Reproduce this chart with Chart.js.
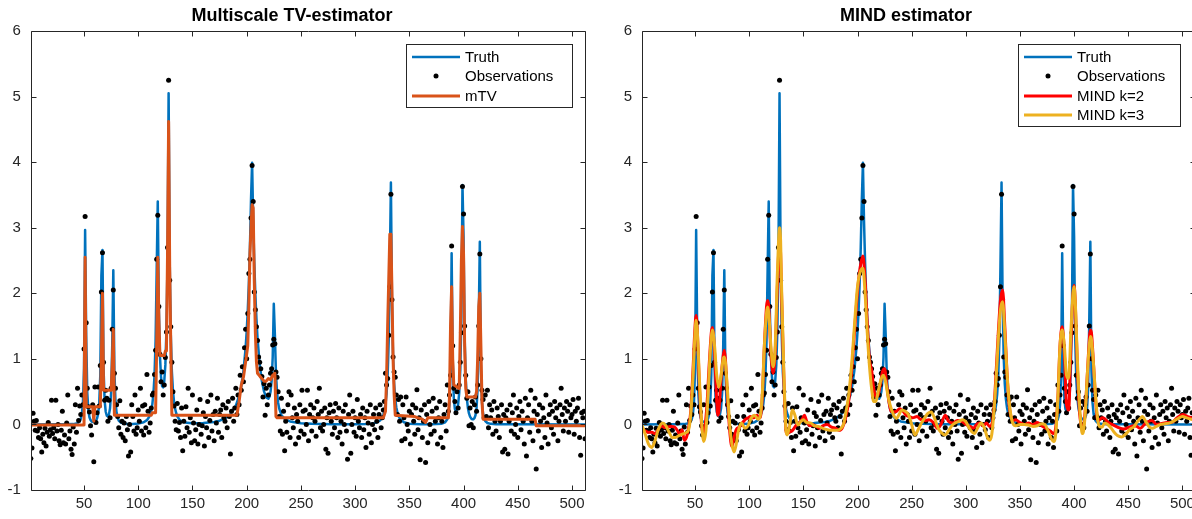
<!DOCTYPE html>
<html><head><meta charset="utf-8">
<script src="https://cdn.jsdelivr.net/npm/chart.js@4.4.1/dist/chart.umd.min.js"></script>
<style>
html,body{margin:0;padding:0;background:#fff;overflow:hidden;width:1192px;height:519px;position:relative;}
.box{position:absolute;top:0;height:519px;width:600px;}
#w1{left:0;} #w2{left:600px;}
canvas{display:block;}
</style></head><body>
<div class="box" id="w1"><canvas id="c1" width="600" height="519"></canvas></div>
<div class="box" id="w2"><canvas id="c2" width="600" height="519"></canvas></div>
<script>
const FONT = '"Liberation Sans", Arial, Helvetica, sans-serif';
const xTicks = [50,100,150,200,250,300,350,400,450,500];
const yTicks = [-1,0,1,2,3,4,5,6];

// Observations, samples 1..512
const obsValues = [
-0.52,-0.36,0.17,0.05,-0.09,0.06,-0.1,-0.2,-0.05,-0.22,
-0.42,-0.15,-0.28,-0.06,-0.33,-0.12,0.03,-0.18,-0.08,0.37,
-0.14,-0.05,-0.22,0.37,-0.1,0.0,-0.25,-0.31,-0.09,0.2,
-0.28,-0.16,-0.3,0.02,0.45,-0.22,-0.1,-0.38,-0.46,-0.04,
-0.3,0.3,-0.12,0.55,0.06,0.28,0.15,0.45,0.3,1.15,
3.17,1.55,0.55,0.27,0.19,-0.02,-0.16,0.3,-0.57,0.57,
0.03,0.18,0.57,0.28,0.9,2.02,2.62,0.95,0.37,0.52,
0.4,0.05,0.37,0.1,0.55,1.45,2.05,0.78,0.55,0.3,
0.12,-0.05,0.36,-0.15,0.05,-0.2,0.02,-0.25,0.12,-0.08,
-0.48,0.0,-0.42,0.3,0.12,-0.1,0.45,-0.15,-0.05,0.22,
0.05,0.55,-0.1,0.28,-0.16,0.3,-0.05,0.76,0.2,-0.12,
0.02,0.25,0.45,0.48,0.76,1.13,2.52,3.19,1.8,1.07,
0.65,0.8,0.45,0.6,1.02,1.41,2.7,5.25,2.2,1.49,
0.95,0.5,0.28,0.05,-0.08,0.32,-0.1,0.03,-0.2,0.25,
-0.4,0.05,-0.18,0.27,-0.05,0.55,-0.12,0.1,-0.28,0.45,
0.02,-0.25,-0.08,0.22,-0.3,0.0,0.38,-0.15,-0.02,0.18,
-0.33,0.12,-0.05,0.35,-0.2,0.06,0.45,-0.1,0.15,-0.25,
0.2,0.02,0.4,-0.12,0.15,0.22,-0.2,0.3,0.1,0.05,
0.25,-0.05,0.35,0.12,-0.45,0.2,0.4,0.05,0.25,0.55,
0.15,0.45,0.3,0.75,0.52,0.88,0.65,1.17,1.45,1.0,
1.69,2.3,2.52,3.15,3.95,3.4,2.02,1.75,1.49,1.28,
1.03,0.95,0.85,0.73,0.42,0.62,0.14,0.55,0.3,0.45,
0.6,0.78,0.85,1.21,1.3,1.23,0.8,0.72,0.5,0.12,
-0.1,0.4,-0.15,0.2,-0.4,0.05,-0.12,0.3,0.5,-0.2,
0.45,0.1,-0.05,0.25,-0.3,0.15,0.05,-0.2,0.3,-0.1,
0.52,0.2,-0.15,0.22,0.0,0.52,-0.25,0.15,0.3,-0.1,
0.1,0.25,0.05,-0.18,0.35,0.15,0.55,-0.05,0.2,-0.1,
0.0,0.25,-0.38,0.1,-0.44,0.18,0.3,0.05,-0.15,0.2,
-0.05,0.32,0.1,-0.2,0.25,-0.12,0.05,-0.3,0.2,0.0,
0.3,-0.1,-0.53,0.15,0.45,-0.44,0.0,0.2,-0.12,0.1,
-0.18,0.38,0.05,-0.05,0.15,-0.2,0.25,-0.08,0.1,-0.35,
0.2,0.02,-0.15,0.3,-0.28,0.0,0.15,-0.08,0.25,0.05,
-0.2,0.15,0.3,-0.05,0.1,0.22,0.35,0.78,0.6,0.7,
1.36,2.1,3.51,1.9,1.03,0.8,0.72,0.45,0.15,0.38,
0.05,0.42,-0.25,0.3,0.1,-0.22,0.42,0.0,-0.1,0.2,
-0.3,0.15,0.3,0.05,-0.15,0.25,0.53,-0.08,0.1,-0.54,
0.22,-0.2,0.05,0.3,-0.58,0.15,-0.28,0.35,0.0,-0.15,
0.2,0.4,-0.1,0.05,0.25,-0.3,0.1,0.35,-0.2,0.05,
-0.35,0.15,0.3,-0.1,0.6,0.2,0.45,0.75,2.72,1.2,
0.55,0.35,0.18,0.5,0.25,0.6,0.95,1.4,3.63,3.21,
1.5,0.75,0.4,0.5,-0.02,0.25,0.0,0.35,-0.05,0.3,
0.42,0.2,0.6,1.5,2.6,1.0,0.52,0.38,0.1,0.45,
0.12,0.52,-0.05,0.3,0.1,0.22,-0.15,0.35,0.05,-0.1,
0.25,0.12,-0.2,0.05,0.3,-0.42,0.15,-0.38,0.1,0.22,
-0.45,0.05,0.3,-0.1,0.18,0.45,-0.15,0.0,0.25,-0.2,
0.12,0.35,-0.08,0.2,0.05,-0.3,0.4,-0.48,0.1,0.3,
-0.12,0.52,0.05,-0.25,0.2,0.4,-0.68,0.15,-0.1,0.3,
0.05,-0.35,0.25,0.1,-0.2,0.45,0.02,-0.3,0.15,0.3,
-0.05,0.2,-0.15,0.35,0.1,0.25,-0.25,0.05,0.3,0.55,
0.15,-0.1,0.25,0.05,0.35,0.2,-0.12,0.3,0.1,0.15,
0.38,-0.15,0.2,0.05,0.25,0.4,-0.2,-0.47,0.18,0.1,
0.2,-0.22];

// Truth (sample index, value)
const truthX = [1,20,30,40,44,46,47,48,49,50,51,52,53,54,55,56,57,58,59,60,61,62,63,64,65,66,67,68,69,70,71,72,73,74,75,76,77,78,79,80,81,82,84,86,90,95,100,105,108,110,112,113,114,115,116,117,118,119,120,121,122,123,124,125,126,127,128,129,130,131,132,133,134,135,136,138,140,145,150,160,170,175,180,185,190,193,195,197,199,200,201,202,203,204,205,206,207,208,209,210,212,214,216,218,220,221,222,223,224,225,226,227,228,229,230,232,235,240,250,260,280,300,310,315,320,323,325,326,327,328,329,330,331,332,333,334,335,336,337,338,339,340,342,345,350,360,370,375,380,383,385,386,387,388,389,390,391,392,393,394,395,396,397,398,399,400,401,402,403,404,405,406,407,408,409,410,411,412,413,414,415,416,417,418,419,420,422,425,430,450,512];
const truthY = [0,0.001,0.002,0.005,0.019,0.047,0.082,0.156,0.335,0.859,2.965,1.348,0.48,0.212,0.11,0.066,0.045,0.038,0.037,0.043,0.059,0.091,0.16,0.32,0.754,2.27,2.66,0.853,0.363,0.194,0.133,0.122,0.153,0.247,0.49,1.2,2.35,0.81,0.35,0.18,0.10,0.06,0.027,0.015,0.008,0.0075,0.0135,0.033,0.065,0.112,0.213,0.31,0.468,0.745,1.27,2.35,3.40,1.77,1.05,0.72,0.583,0.566,0.662,0.908,1.43,2.52,5.05,2.49,1.37,0.81,0.517,0.343,0.238,0.171,0.125,0.073,0.045,0.024,0.017,0.021,0.038,0.057,0.09,0.155,0.285,0.43,0.583,0.81,1.165,1.415,1.737,2.15,2.70,3.43,3.99,3.11,2.47,1.98,1.61,1.315,0.914,0.662,0.504,0.413,0.392,0.423,0.498,0.667,1.024,1.84,1.37,0.778,0.488,0.332,0.24,0.145,0.084,0.045,0.019,0.01,0.004,0.003,0.006,0.012,0.03,0.06,0.106,0.146,0.208,0.305,0.467,0.751,1.287,2.41,3.69,1.854,1.028,0.617,0.392,0.26,0.18,0.128,0.07,0.033,0.012,0.003,0.003,0.005,0.012,0.032,0.079,0.143,0.297,0.751,2.61,0.993,0.402,0.235,0.2,0.223,0.307,0.482,0.838,1.63,3.65,2.86,1.334,0.70,0.406,0.252,0.168,0.119,0.092,0.079,0.079,0.095,0.14,0.25,0.552,1.57,2.785,0.838,0.336,0.161,0.088,0.052,0.022,0.009,0.003,0.001,0];

// Multiscale TV estimate
const mtvX = [1,50,51,52,58,59,60,65,66,67,68,75,76,77,78,112,113,116,117,118,119,120,124,125,126,127,128,129,130,131,191,193,195,197,199,201,202,203,204,205,206,207,208,209,210,213,216,218,220,222,224,226,227,228,326,328,329,330,331,332,333,334,335,336,337,355,358,362,365,367,386,387,388,389,390,391,396,397,398,399,400,401,402,403,411,412,413,414,415,416,417,418,466,467,512];
const mtvY = [-0.01,-0.01,2.55,0.27,0.27,0.05,0.27,0.27,1.0,2.0,0.52,0.52,0.9,1.45,0.14,0.14,0.18,0.18,1.2,2.55,1.6,1.05,1.05,1.12,1.12,2.6,4.62,2.4,1.2,0.14,0.14,0.35,0.6,0.72,0.95,1.2,1.8,2.6,3.0,3.35,3.3,2.2,1.4,0.95,0.78,0.72,0.66,0.66,0.7,0.68,0.75,0.78,0.12,0.1,0.1,0.2,0.7,1.5,2.2,2.9,2.9,2.0,1.0,0.45,0.14,0.12,0.1,0.08,0.03,0.1,0.1,0.4,1.5,2.1,1.0,0.6,0.55,1.4,2.5,3.02,2.6,1.2,0.55,0.42,0.42,0.5,1.0,1.8,2.0,1.2,0.35,0.08,0.08,-0.02,-0.02];

// MIND k=2
const mind2X = [1,4,7,10,13,16,19,22,25,28,31,34,36,38,40,42,44,46,48,50,51,52,54,56,57,59,61,63,65,66,68,70,71,72,74,76,77,78,80,82,84,86,88,91,94,96,99,101,104,107,110,112,114,116,117,118,120,122,124,126,128,129,130,132,134,135,137,140,143,146,149,151,153,156,159,162,165,168,172,176,180,183,186,189,192,195,198,201,203,205,207,209,211,213,215,217,219,221,223,225,227,229,231,233,236,239,242,245,248,251,255,258,262,266,270,274,277,281,284,288,292,296,300,304,307,310,313,316,319,322,324,326,328,330,332,334,336,338,340,342,344,346,350,354,358,362,366,370,374,378,381,383,385,387,389,391,393,395,397,399,400,401,403,405,407,409,411,413,415,416,418,420,422,424,426,428,431,435,440,446,451,455,458,461,465,468,472,476,480,486,490,495,500,505,509,512];
const mind2Y = [-0.09,-0.1,-0.12,-0.12,-0.14,-0.08,-0.02,-0.05,-0.04,-0.03,-0.04,-0.1,-0.16,-0.08,-0.24,-0.2,-0.05,0.2,0.8,1.5,1.66,1.45,0.6,0.0,-0.14,-0.05,0.3,0.9,1.4,1.48,1.1,0.35,0.14,0.2,0.7,1.05,1.13,1.0,0.4,-0.1,-0.34,-0.2,-0.08,-0.04,0.03,0.07,0.1,0.12,0.1,0.14,0.1,0.4,1.2,1.8,1.89,1.8,1.1,0.78,1.1,2.1,2.8,2.6,1.9,0.7,-0.1,-0.14,-0.12,-0.09,-0.02,0.02,0.08,0.14,0.05,-0.02,-0.01,-0.03,-0.06,-0.02,0.0,-0.04,-0.06,-0.09,-0.05,0.1,0.37,0.9,1.6,2.2,2.45,2.57,2.2,1.55,1.0,0.83,0.55,0.42,0.45,0.6,0.8,0.85,0.6,0.35,0.2,0.19,0.2,0.24,0.2,0.14,0.12,0.1,0.12,0.08,0.06,0.07,0.03,-0.06,0.0,0.14,0.05,0.02,0.06,0.05,0.0,-0.03,-0.06,0.0,0.02,-0.02,0.02,-0.03,0.0,0.25,0.8,1.4,1.9,2.05,1.5,0.8,0.3,0.1,0.06,0.07,0.03,0.0,0.02,0.0,0.03,-0.02,-0.06,-0.1,-0.14,-0.05,0.4,1.2,1.49,1.1,0.3,0.22,1.2,2.0,2.12,1.9,0.9,0.2,-0.05,0.0,0.4,1.0,1.44,1.4,0.9,0.35,0.05,0.08,0.1,0.09,0.04,0.0,-0.04,-0.07,-0.04,-0.02,-0.03,-0.06,0.0,0.04,0.06,0.0,0.01,0.03,0.03,0.1,0.15,0.12,0.1,0.08];

// MIND k=3
const mind3X = [1,4,7,10,13,16,20,23,26,29,32,35,38,41,44,46,48,50,51,52,54,56,58,60,62,64,66,68,70,72,74,76,77,78,80,82,84,86,88,90,93,96,99,102,105,108,110,112,114,116,117,118,120,122,124,126,128,129,130,132,134,135,137,140,142,145,148,150,153,157,160,164,168,172,176,180,184,187,190,192,195,198,200,203,205,207,209,211,213,215,217,219,222,224,226,228,230,232,234,236,238,241,244,247,250,253,256,259,262,265,268,271,274,277,281,284,287,290,294,297,300,303,306,308,311,314,317,320,322,324,326,328,330,332,334,336,338,340,342,344,346,350,354,358,362,366,370,373,376,379,381,383,385,387,389,391,393,395,397,399,400,401,403,405,407,408,410,412,414,415,416,418,420,422,424,426,428,431,434,437,440,444,448,452,455,458,461,463,466,469,472,476,480,484,488,492,496,500,504,508,512];
const mind3Y = [-0.01,-0.15,-0.3,-0.35,-0.25,-0.08,0.02,-0.02,-0.12,-0.2,-0.2,-0.17,-0.15,-0.13,-0.08,0.15,0.7,1.4,1.59,1.45,0.7,0.05,-0.26,-0.1,0.45,1.1,1.44,1.2,0.75,0.57,0.75,1.0,1.03,0.95,0.5,0.0,-0.3,-0.42,-0.3,-0.1,0.02,-0.06,-0.02,0.1,0.14,0.08,0.12,0.45,1.2,1.7,1.79,1.7,1.2,0.88,1.2,2.3,3.0,2.8,2.0,0.8,-0.1,-0.16,-0.05,0.22,0.15,-0.01,0.05,0.07,0.03,0.02,-0.02,-0.03,-0.06,-0.08,-0.09,-0.09,-0.07,0.0,0.25,0.47,1.0,1.7,2.1,2.35,2.38,2.0,1.4,0.9,0.55,0.35,0.35,0.5,0.7,0.75,0.65,0.45,0.3,0.2,0.12,0.09,0.14,0.22,0.2,0.15,0.0,-0.16,-0.08,0.02,0.1,0.17,0.19,0.1,-0.04,-0.12,-0.16,-0.1,-0.02,0.02,0.05,0.07,0.04,-0.05,-0.12,-0.14,-0.05,0.02,-0.05,-0.2,-0.24,-0.15,0.2,0.7,1.3,1.75,1.87,1.4,0.8,0.35,0.1,0.0,-0.02,0.0,0.0,-0.01,-0.03,-0.02,0.01,0.0,-0.1,-0.22,-0.26,-0.15,0.4,1.2,1.44,1.2,0.75,0.7,1.4,2.0,2.1,1.9,1.0,0.3,-0.1,-0.14,0.1,0.7,1.2,1.34,1.3,0.9,0.4,0.05,-0.04,-0.04,0.02,0.0,-0.05,-0.12,-0.17,-0.19,-0.14,-0.07,-0.04,0.03,0.09,0.12,0.05,-0.03,-0.06,-0.03,0.0,0.01,0.02,0.05,0.09,0.12,0.1,0.08,0.07];

const pts = (xs, ys) => xs.map((x, k) => ({x: x, y: ys[k]}));
const obsPts = obsValues.map((v, k) => ({x: k + 1, y: v}));

const decor = {
  id: 'decor',
  afterDraw(chart, args, opts) {
    const {ctx, chartArea: a, scales: {x, y}} = chart;
    ctx.save();
    ctx.strokeStyle = '#262626';
    ctx.lineWidth = 1;
    const L = Math.round(a.left) + 0.5, R = Math.round(a.right) + 0.5, T = Math.round(a.top) + 0.5, B = Math.round(a.bottom) + 0.5;
    ctx.beginPath();
    ctx.moveTo(L, T); ctx.lineTo(R, T); ctx.lineTo(R, B); ctx.lineTo(L, B); ctx.closePath();
    xTicks.forEach(v => {
      const px = Math.round(x.getPixelForValue(v)) + 0.5;
      ctx.moveTo(px, B); ctx.lineTo(px, B - 5);
      ctx.moveTo(px, T); ctx.lineTo(px, T + 5);
    });
    yTicks.forEach(v => {
      const py = Math.round(y.getPixelForValue(v)) + 0.5;
      ctx.moveTo(L, py); ctx.lineTo(L + 5, py);
      ctx.moveTo(R, py); ctx.lineTo(R - 5, py);
    });
    ctx.stroke();
    // title
    ctx.fillStyle = '#000';
    ctx.font = 'bold 18px ' + FONT;
    ctx.textAlign = 'center';
    ctx.textBaseline = 'middle';
    ctx.fillText(opts.title, opts.titleX, 16);
    // legend
    const lg = opts.legend;
    ctx.fillStyle = '#fff';
    ctx.fillRect(lg.x, lg.y, lg.w, lg.h);
    ctx.strokeStyle = '#262626';
    ctx.strokeRect(lg.x + 0.5, lg.y + 0.5, lg.w, lg.h);
    ctx.font = '15px ' + FONT;
    ctx.textAlign = 'left';
    ctx.textBaseline = 'middle';
    lg.items.forEach((it, k) => {
      const yy = lg.y + lg.rows[k];
      const x0 = lg.x + 6, x1 = lg.x + 54;
      if (it.kind === 'line') {
        ctx.strokeStyle = it.color; ctx.lineWidth = it.width;
        ctx.beginPath(); ctx.moveTo(x0, yy); ctx.lineTo(x1, yy); ctx.stroke();
      } else {
        ctx.fillStyle = it.color;
        ctx.beginPath(); ctx.arc((x0 + x1) / 2, yy, 2.5, 0, Math.PI * 2); ctx.fill();
      }
      ctx.fillStyle = '#000';
      ctx.fillText(it.label, lg.x + 59, yy + 0.5);
    });
    ctx.restore();
  }
};

function opts(padRight, yWidth, title, titleX, legend) {
  const tickFont = {family: FONT, size: 15};
  return {
    responsive: false, animation: false, events: [],
    layout: {padding: {left: 0, right: padRight, top: 31, bottom: 0}},
    plugins: {legend: {display: false}, tooltip: {enabled: false}, title: {display: false},
              decor: {title: title, titleX: titleX, legend: legend}},
    scales: {
      x: {type: 'linear', min: 1, max: 512,
          afterBuildTicks: s => { s.ticks = xTicks.map(v => ({value: v})); },
          afterFit: s => { s.height = 29; },
          grid: {display: false, drawTicks: false}, border: {display: false},
          ticks: {color: '#262626', font: tickFont, padding: 5, maxRotation: 0, autoSkip: false, callback: v => String(v)}},
      y: {type: 'linear', min: -1, max: 6,
          afterBuildTicks: s => { s.ticks = yTicks.map(v => ({value: v})); },
          afterFit: s => { s.width = yWidth; },
          grid: {display: false, drawTicks: false}, border: {display: false},
          ticks: {color: '#262626', font: tickFont, padding: 10, callback: v => String(v)}}
    }
  };
}

const lineDs = (label, data, color, width, order, extra) => Object.assign({
  label: label, data: data, borderColor: color, backgroundColor: color, borderWidth: width,
  pointRadius: 0, order: order, tension: 0, fill: false, borderJoinStyle: 'round', borderCapStyle: 'round'
}, extra || {});
const obsDs = (order) => ({label: 'Observations', data: obsPts, showLine: false, pointRadius: 2.5,
  pointBackgroundColor: '#000', pointBorderWidth: 0, borderColor: '#000', backgroundColor: '#000', order: order});

new Chart(document.getElementById('c1'), {
  type: 'line', plugins: [decor],
  data: {datasets: [
    lineDs('mTV', pts(mtvX, mtvY), '#D95319', 3, 0),
    obsDs(1),
    lineDs('Truth', pts(truthX, truthY), '#0072BD', 2.5, 2)
  ]},
  options: opts(15, 30.9, 'Multiscale TV-estimator', 292, {
    x: 406, y: 44, w: 166, h: 63, rows: [13, 32, 52],
    items: [
      {label: 'Truth', kind: 'line', color: '#0072BD', width: 2.5},
      {label: 'Observations', kind: 'dot', color: '#000'},
      {label: 'mTV', kind: 'line', color: '#D95319', width: 3}
    ]})
});

new Chart(document.getElementById('c2'), {
  type: 'line', plugins: [decor],
  data: {datasets: [
    lineDs('MIND k=3', pts(mind3X, mind3Y), '#EDB120', 3, 0, {cubicInterpolationMode: 'monotone'}),
    lineDs('MIND k=2', pts(mind2X, mind2Y), '#FF0000', 3, 1, {cubicInterpolationMode: 'monotone'}),
    obsDs(2),
    lineDs('Truth', pts(truthX, truthY), '#0072BD', 2.5, 3)
  ]},
  options: opts(4, 42, 'MIND estimator', 306, {
    x: 418, y: 44, w: 162, h: 82, rows: [13, 32, 52, 71],
    items: [
      {label: 'Truth', kind: 'line', color: '#0072BD', width: 2.5},
      {label: 'Observations', kind: 'dot', color: '#000'},
      {label: 'MIND k=2', kind: 'line', color: '#FF0000', width: 3},
      {label: 'MIND k=3', kind: 'line', color: '#EDB120', width: 3}
    ]})
});
</script>
</body></html>
